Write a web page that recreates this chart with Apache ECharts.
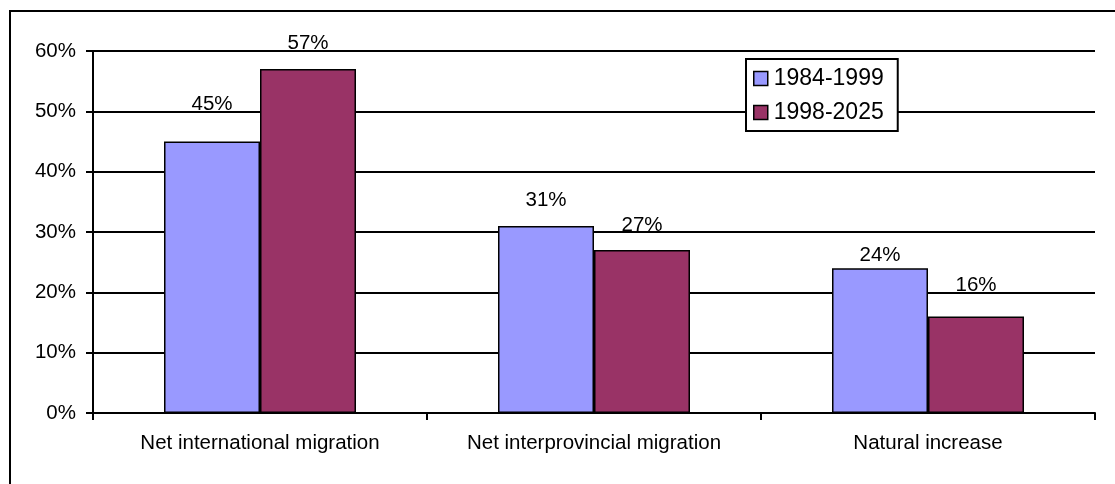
<!DOCTYPE html>
<html>
<head>
<meta charset="utf-8">
<script src="https://cdn.jsdelivr.net/npm/echarts@6/dist/echarts.min.js"></script>
<style>
html,body{margin:0;padding:0;background:#fff;}
#chart{width:1115px;height:484px;}
</style>
</head>
<body>
<div id="chart"></div>
<script>
const categories = ['Net international migration', 'Net interprovincial migration', 'Natural increase'];
const seriesNames = ['1984-1999', '1998-2025'];
const values1984 = [45, 31, 24];
const values1998 = [57, 27, 16];
const yTicks = [0, 10, 20, 30, 40, 50, 60];

// label offsets above the bars (style only)
const labelGap1984 = [27, 15, 2];
const labelGap1998 = [15, 14, 21];

const FONT = '"Liberation Sans", Arial, sans-serif';

function withLabels(vals, gaps) {
  return vals.map((v, i) => ({ value: v, label: { distance: gaps[i] } }));
}

const chart = echarts.init(document.getElementById('chart'), null, { renderer: 'canvas' });
chart.setOption({
  backgroundColor: '#fff',
  animation: false,
  textStyle: { fontFamily: FONT, color: '#000' },
  graphic: [{
    type: 'rect',
    shape: { x: 10, y: 11, width: 1200, height: 600 },
    style: { fill: 'none', stroke: '#000', lineWidth: 2 },
    silent: true, z: -1
  }],
  grid: { left: 93, right: 20, top: 51, bottom: 71, containLabel: false },
  legend: {
    orient: 'vertical',
    left: 746, top: 59,
    data: seriesNames,
    backgroundColor: '#fff',
    borderColor: '#000',
    borderWidth: 2,
    borderRadius: 0,
    padding: [8, 14, 7, 7],
    itemGap: 11,
    itemWidth: 14, itemHeight: 14,
    icon: 'rect',
    itemStyle: { borderColor: '#000', borderWidth: 1.5 },
    textStyle: { fontFamily: FONT, fontSize: 23, color: '#000', padding: [0, 0, 0, 1] }
  },
  xAxis: {
    type: 'category',
    data: categories,
    axisLine: { show: true, lineStyle: { color: '#000', width: 2 } },
    axisTick: { show: true, length: 7, lineStyle: { color: '#000', width: 2 } },
    axisLabel: { fontFamily: FONT, fontSize: 20.5, color: '#000', margin: 20 },
    splitLine: { show: false }
  },
  yAxis: {
    type: 'value',
    min: yTicks[0], max: yTicks[yTicks.length - 1], interval: 10,
    axisLine: { show: true, lineStyle: { color: '#000', width: 2 } },
    axisTick: { show: true, length: 7, lineStyle: { color: '#000', width: 2 } },
    axisLabel: { fontFamily: FONT, fontSize: 20.5, color: '#000', margin: 17, formatter: '{value}%' },
    splitLine: { show: true, lineStyle: { color: '#000', width: 2 } }
  },
  series: [
    {
      name: seriesNames[0], type: 'bar',
      data: withLabels(values1984, labelGap1984),
      barWidth: 96, barGap: '0%',
      itemStyle: { color: '#9999FF', borderColor: '#000', borderWidth: 1.5 },
      label: { show: true, position: 'top', formatter: '{c}%', fontFamily: FONT, fontSize: 20.5, color: '#000' }
    },
    {
      name: seriesNames[1], type: 'bar',
      data: withLabels(values1998, labelGap1998),
      barWidth: 96, barGap: '0%',
      itemStyle: { color: '#993366', borderColor: '#000', borderWidth: 1.5 },
      label: { show: true, position: 'top', formatter: '{c}%', fontFamily: FONT, fontSize: 20.5, color: '#000' }
    }
  ]
});
</script>
</body>
</html>
